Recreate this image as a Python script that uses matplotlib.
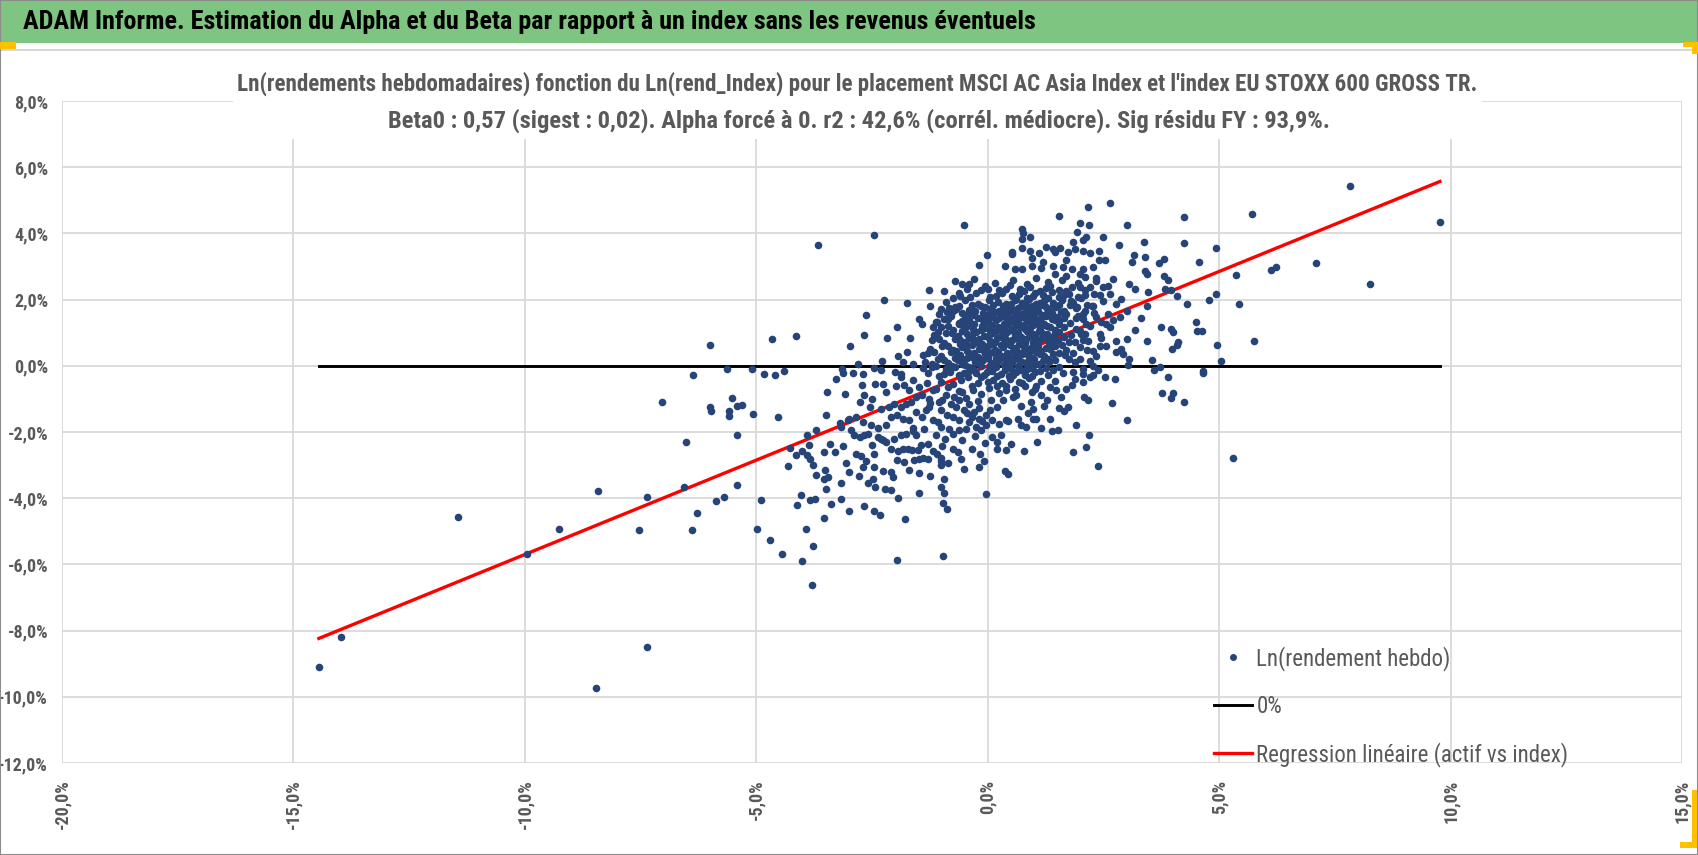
import matplotlib
matplotlib.use("Agg")
import matplotlib.pyplot as plt
import matplotlib.font_manager as fm
from matplotlib.patches import Rectangle
from matplotlib.lines import Line2D
from matplotlib.ticker import FuncFormatter
import numpy as np

# --- data (x = Ln(rend_Index) %, y = Ln(rendement hebdo) %) ---
pts_far = [(-14.45, -9.10), (-13.98, -8.18), (-11.44, -4.58), (-9.95, -5.69), (-9.27, -4.92),
           (-8.41, -3.79), (-8.46, -9.74), (-7.54, -4.96), (-7.37, -3.95), (-7.37, -8.51),
           (-7.04, -1.08), (-6.57, -3.65), (-6.52, -2.31), (-6.36, -0.27), (-6.38, -4.96),
           (-6.28, -4.46), (-6.00, 0.62), (-6.00, -1.24), (-5.98, -1.38), (-5.88, -4.08),
           (-5.69, -3.95), (-5.53, -0.96), (-5.60, -1.38), (-5.60, -1.51), (-5.41, -1.21),
           (-5.31, -1.17), (-5.41, -2.09), (-5.41, -3.61),
           (7.83, 5.43), (9.77, 4.33), (7.09, 3.10), (8.25, 2.47)]

pts_upper_left = [(-3.66, 3.65), (-2.46, 3.95), (-0.52, 4.24), (-0.02, 3.35), (-0.19, 3.06),
                  (-0.71, 2.55), (-0.55, 2.46), (-0.40, 2.46), (-1.27, 2.29), (0.00, 2.33),
                  (-2.24, 1.99), (-1.75, 1.90), (-1.25, 1.82), (-0.62, 2.21), (-2.64, 1.53),
                  (-1.96, 1.18), (-1.48, 1.42), (-1.42, 1.27), (-4.65, 0.81), (-4.15, 0.89),
                  (-2.67, 0.94), (-2.17, 0.85), (-1.67, 0.85), (-2.97, 0.60), (-1.75, 0.43),
                  (-1.94, 0.29), (-1.84, 0.12), (-2.28, 0.13), (-2.81, 0.04), (-5.63, -0.10),
                  (-5.09, -0.10), (-4.84, -0.25), (-4.60, -0.29), (-4.41, -0.16), (-3.15, -0.10),
                  (-3.12, -0.22), (-2.92, -0.22), (-2.69, -0.25), (-2.46, -0.08), (-2.31, -0.13),
                  (-2.01, -0.20), (-1.88, -0.25), (-3.28, -0.40), (-1.62, 0.05), (-1.39, 0.33),
                  (-1.21, 0.06), (-1.19, 1.16), (-1.08, 1.01), (-1.12, 1.32), (-0.83, 1.74),
                  (-0.76, 1.67), (-0.68, 1.72), (-0.44, 1.52), (-0.62, 1.27), (-0.47, 1.16)]

pts_upper_right = [(2.64, 4.92), (2.17, 4.80), (1.53, 4.54), (1.99, 4.32), (2.19, 4.24), (3.00, 4.24),
                   (4.25, 4.49), (5.72, 4.58), (0.75, 4.12), (0.76, 4.00), (0.75, 3.82), (0.91, 3.90),
                   (1.93, 4.03), (2.13, 3.90), (2.05, 3.80), (2.50, 3.90), (1.84, 3.74), (2.83, 3.66),
                   (3.38, 3.73), (4.25, 3.70), (4.94, 3.56), (0.52, 3.44), (0.53, 3.37), (0.75, 3.56),
                   (0.91, 3.47), (1.11, 3.41), (1.25, 3.59), (1.41, 3.54), (1.56, 3.56), (1.45, 3.44),
                   (1.74, 3.44), (1.88, 3.54), (2.06, 3.47), (2.20, 3.41), (2.41, 3.47), (2.53, 3.21),
                   (2.40, 3.19), (3.17, 3.36), (3.11, 3.15), (3.40, 3.30), (3.69, 3.10), (3.80, 3.22),
                   (4.56, 3.15), (0.37, 3.02), (0.58, 2.93), (0.75, 2.91), (0.96, 3.01), (1.16, 2.94),
                   (1.41, 3.03), (1.63, 2.97), (1.83, 2.91), (1.99, 2.78), (2.10, 2.68), (2.28, 2.97),
                   (3.40, 2.86), (3.45, 2.78), (3.80, 2.71), (3.90, 2.58), (5.36, 2.75), (6.12, 2.88),
                   (6.23, 2.97), (3.05, 2.48), (3.18, 2.33), (3.47, 2.24), (3.83, 2.33), (3.95, 2.30),
                   (4.09, 2.11), (4.94, 2.16), (4.78, 1.99), (5.43, 1.86), (4.30, 1.86), (3.45, 1.82),
                   (3.31, 1.44), (3.19, 1.09), (3.02, 0.81), (3.45, 0.76), (3.75, 1.18), (3.96, 1.11),
                   (4.01, 1.01), (4.51, 1.32), (4.53, 1.06), (4.63, 1.06), (4.12, 0.71), (4.08, 0.63),
                   (3.99, 0.51), (4.96, 0.64), (5.76, 0.76), (5.03, 0.13), (3.55, 0.17), (3.73, -0.03),
                   (3.59, -0.13), (3.90, -0.33), (4.65, -0.17), (4.65, -0.23), (2.78, 0.76), (2.89, 0.51),
                   (2.92, 0.35), (3.05, 0.22), (3.04, 0.02), (2.56, 0.61), (2.42, 0.61), (2.77, 0.43),
                   (2.28, 0.46), (2.35, 0.30), (2.64, 1.16), (2.71, 1.37), (2.85, 1.47), (3.00, 1.67),
                   (2.78, 1.87), (2.89, 2.03), (2.42, 2.13), (2.28, 1.82), (2.49, 2.38), (2.64, 2.18),
                   (2.35, 1.47), (2.42, 0.96), (2.56, 1.27), (2.10, 2.13), (1.99, 2.38), (1.81, 1.97),
                   (1.92, 1.77), (2.06, 1.57), (2.13, 1.27), (2.02, 0.96), (2.17, 0.76), (2.28, 0.00),
                   (2.20, 0.15), (2.39, -0.12), (1.88, 0.10), (1.99, 0.20), (2.06, -0.10), (1.84, -0.20)]

pts_lower_left = [(-5.08, -1.45), (-4.53, -1.55), (-4.89, -4.04), (-4.98, -4.94), (-4.70, -5.27),
                  (-4.44, -5.70), (-4.02, -5.91), (-3.80, -6.63), (-3.77, -5.44), (-3.92, -4.94),
                  (-4.11, -4.21), (-4.04, -3.89), (-3.85, -4.04), (-3.73, -4.01), (-3.54, -4.60),
                  (-3.39, -4.17), (-3.16, -4.01), (-3.00, -4.38), (-2.67, -4.25), (-2.46, -4.38),
                  (-2.32, -4.52), (-1.79, -4.64), (-1.96, -5.87), (-0.97, -5.74), (-0.97, -4.13),
                  (-0.88, -4.34), (-0.03, -3.88), (-4.32, -3.04), (-4.27, -2.47), (-4.14, -2.68),
                  (-4.01, -2.56), (-3.91, -2.68), (-3.87, -2.40), (-3.91, -2.10), (-3.84, -2.81),
                  (-3.77, -2.99), (-3.71, -3.29), (-3.51, -3.16), (-3.54, -3.42), (-3.45, -3.36),
                  (-3.49, -3.72), (-3.54, -2.61), (-3.41, -2.35), (-3.30, -2.61), (-3.12, -2.43),
                  (-3.71, -1.93), (-3.49, -1.49), (-3.47, -0.79), (-3.09, -0.84), (-3.20, -1.73),
                  (-3.17, -1.85), (-3.02, -1.65), (-3.00, -1.60), (-2.95, -1.95), (-2.88, -2.10),
                  (-2.77, -2.15), (-2.67, -2.10), (-2.59, -2.07), (-3.07, -2.94), (-2.99, -3.21),
                  (-3.18, -3.54), (-2.84, -2.66), (-2.74, -2.71), (-2.70, -3.06), (-2.79, -3.32),
                  (-2.59, -3.53), (-2.47, -3.41), (-2.45, -3.07), (-2.44, -3.67), (-2.27, -3.18),
                  (-2.22, -3.71), (-2.10, -3.75), (-2.04, -3.36), (-2.10, -3.21), (-1.93, -4.00),
                  (-1.49, -3.84), (-1.49, -3.24), (-1.02, -3.67), (-0.94, -3.85), (-0.94, -3.41),
                  (-1.02, -3.00), (-1.02, -2.88), (-1.02, -2.78), (-1.48, -2.83), (-1.39, -2.79),
                  (-1.30, -2.81), (-1.96, -2.86), (-1.80, -2.91), (-1.59, -2.84), (-2.50, -2.40),
                  (-2.45, -2.66), (-2.27, -2.25), (-2.20, -2.30), (-2.08, -2.51), (-1.94, -2.56),
                  (-1.83, -2.51), (-1.73, -2.51), (-1.64, -2.54), (-2.38, -2.15), (-2.31, -2.20),
                  (-2.03, -2.20), (-1.88, -2.10), (-1.77, -2.05), (-1.55, -2.10), (-1.45, -2.40),
                  (-1.30, -2.35), (-1.19, -2.56), (-1.09, -2.66), (-0.76, -2.51), (-0.65, -2.61),
                  (-0.58, -2.81), (-0.33, -2.51), (-0.17, -2.66), (-0.18, -3.06), (-0.09, -2.89),
                  (0.10, -2.15), (0.19, -2.51), (0.28, -2.10), (0.19, -2.30),
                  (-2.72, -0.59), (-2.76, -1.09), (-2.67, -0.89), (-2.49, -0.99), (-2.43, -0.56),
                  (-2.27, -0.56), (-2.20, -0.79), (-1.98, -0.62), (-2.31, -1.32), (-2.13, -1.24),
                  (-2.02, -1.14), (-2.69, -1.70), (-2.52, -1.80), (-2.38, -1.87), (-2.20, -1.80),
                  (-2.09, -1.55), (-1.95, -1.49), (-1.84, -1.60), (-1.70, -1.65), (-1.55, -1.39),
                  (-1.41, -1.55), (-1.34, -1.34), (-1.26, -1.24), (-1.19, -1.65), (-1.08, -1.70),
                  (-1.01, -1.85), (-0.83, -1.90), (-0.76, -2.05), (-0.62, -1.95), (-0.47, -1.90),
                  (-0.40, -1.70), (-0.26, -1.85), (-0.15, -1.95), (-0.04, -1.80), (0.10, -1.65),
                  (0.24, -1.75), (0.39, -1.65), (-1.88, -0.33), (-1.80, -0.59), (-1.71, -0.74),
                  (-1.62, -0.43), (-1.48, -0.64), (-1.41, -0.89), (-1.26, -0.99), (-1.19, -0.74),
                  (-1.05, -1.09), (-0.91, -0.89), (-0.80, -1.14), (-0.69, -1.24), (-0.62, -1.04),
                  (-0.51, -1.34), (-0.40, -1.14), (-0.29, -1.39), (-0.19, -1.29), (-0.04, -1.49),
                  (0.06, -1.34), (0.21, -1.24), (0.32, -1.04), (0.39, -0.74), (-1.66, -1.09),
                  (-1.55, -0.94), (-1.88, -1.24), (-1.77, -1.14), (-1.01, -1.34), (-0.87, -1.49),
                  (-0.76, -1.55), (-0.62, -1.65), (-0.33, -1.55), (-0.19, -1.60)]

pts_lower_right = [(5.30, -2.78), (2.38, -3.04), (2.13, -2.44), (1.84, -2.61), (2.19, -2.09),
                   (1.91, -1.80), (3.02, -1.64), (2.69, -1.12), (4.25, -1.08), (3.77, -0.83),
                   (3.95, -0.96), (4.01, -0.82), (2.53, -0.35), (2.76, -0.40), (2.22, -0.35),
                   (2.28, -0.28), (2.05, -0.25), (2.05, -0.50), (1.83, -0.59), (1.88, -0.41),
                   (2.08, -0.94), (2.17, -1.04), (1.74, -1.24), (1.65, -1.37), (1.53, -1.29),
                   (1.34, -1.60), (1.51, -1.93), (1.39, -1.97), (1.15, -1.89), (1.06, -2.30),
                   (0.79, -2.57), (0.51, -2.35), (0.39, -2.53), (0.37, -3.18), (0.44, -3.28),
                   (0.44, -1.67), (0.66, -1.60), (0.71, -1.80), (0.82, -1.85), (0.87, -1.44),
                   (0.98, -1.60), (1.04, -1.60), (1.22, -1.21), (1.58, -0.94), (1.70, -0.71),
                   (1.48, -0.74), (1.34, -0.64), (1.16, -0.89), (1.02, -0.69), (0.94, -1.09)]

pts_core = [(-0.30, 2.62), (0.15, 2.50), (0.55, 2.58), (0.85, 2.47), (1.05, 2.65), (1.30, 2.52),
            (1.60, 2.60), (1.95, 2.49), (2.35, 2.57),
            (-0.45, 2.31), (-0.05, 2.40), (0.25, 2.29), (0.48, 2.43), (0.70, 2.33), (0.92, 2.38),
            (1.12, 2.27), (1.35, 2.41), (1.55, 2.30), (1.82, 2.37), (2.10, 2.28), (2.60, 2.42),
            (-0.60, 2.12), (-0.25, 2.19), (0.05, 2.08), (0.30, 2.21), (0.52, 2.11), (0.68, 2.18),
            (0.85, 2.06), (1.02, 2.20), (1.20, 2.13), (1.38, 2.23), (1.55, 2.09), (1.75, 2.17),
            (2.02, 2.05), (2.30, 2.16),
            (-0.90, 1.92), (-0.50, 1.99), (-0.20, 1.88), (0.02, 2.00), (0.22, 1.93), (0.40, 1.86),
            (0.58, 1.98), (0.75, 1.90), (0.90, 2.01), (1.05, 1.87), (1.22, 1.96), (1.40, 1.89),
            (1.60, 1.99), (1.85, 1.91), (2.15, 1.85), (2.50, 1.97),
            (-1.00, 1.72), (-0.70, 1.79), (-0.40, 1.69), (-0.15, 1.80), (0.05, 1.73), (0.25, 1.66),
            (0.42, 1.78), (0.58, 1.70), (0.72, 1.81), (0.88, 1.68), (1.00, 1.76), (1.15, 1.83),
            (1.30, 1.71), (1.48, 1.78), (1.65, 1.67), (1.90, 1.74), (2.25, 1.80),
            (-1.05, 1.58), (-0.80, 1.50), (-0.55, 1.61), (-0.30, 1.52), (-0.10, 1.59), (0.10, 1.47),
            (0.28, 1.56), (0.45, 1.62), (0.60, 1.49), (0.75, 1.57), (0.88, 1.46), (1.02, 1.60),
            (1.18, 1.52), (1.32, 1.63), (1.50, 1.48), (1.70, 1.56), (1.95, 1.51), (2.30, 1.59),
            (-1.10, 1.32), (-0.85, 1.40), (-0.62, 1.29), (-0.40, 1.37), (-0.20, 1.43), (0.00, 1.31),
            (0.18, 1.39), (0.35, 1.27), (0.50, 1.42), (0.65, 1.33), (0.80, 1.44), (0.95, 1.30),
            (1.08, 1.38), (1.22, 1.26), (1.38, 1.41), (1.55, 1.34), (1.78, 1.28), (2.05, 1.40),
            (2.45, 1.33),
            (-1.00, 1.18), (-0.75, 1.09), (-0.52, 1.21), (-0.32, 1.12), (-0.12, 1.19), (0.05, 1.07),
            (0.22, 1.16), (0.40, 1.23), (0.55, 1.10), (0.70, 1.18), (0.85, 1.05), (0.98, 1.22),
            (1.12, 1.13), (1.28, 1.20), (1.45, 1.08), (1.65, 1.17), (1.90, 1.11), (2.20, 1.21),
            (-1.15, 0.92), (-0.90, 1.00), (-0.65, 0.89), (-0.45, 0.97), (-0.25, 1.03), (-0.08, 0.91),
            (0.10, 0.99), (0.28, 0.87), (0.42, 1.02), (0.58, 0.94), (0.72, 0.86), (0.88, 1.01),
            (1.02, 0.90), (1.18, 0.98), (1.35, 0.88), (1.55, 1.02), (1.80, 0.93), (2.10, 0.97),
            (-1.20, 0.78), (-0.95, 0.70), (-0.70, 0.81), (-0.50, 0.72), (-0.30, 0.79), (-0.12, 0.67),
            (0.05, 0.76), (0.20, 0.83), (0.35, 0.70), (0.52, 0.78), (0.68, 0.66), (0.82, 0.80),
            (0.98, 0.73), (1.15, 0.82), (1.32, 0.69), (1.52, 0.77), (1.75, 0.71), (2.05, 0.79),
            (-1.25, 0.52), (-0.98, 0.60), (-0.75, 0.49), (-0.55, 0.57), (-0.35, 0.63), (-0.18, 0.51),
            (0.00, 0.59), (0.15, 0.47), (0.32, 0.56), (0.48, 0.62), (0.62, 0.50), (0.78, 0.58),
            (0.92, 0.46), (1.08, 0.61), (1.25, 0.53), (1.45, 0.59), (1.70, 0.48), (2.00, 0.56),
            (-1.30, 0.38), (-1.02, 0.30), (-0.80, 0.41), (-0.60, 0.32), (-0.40, 0.39), (-0.22, 0.27),
            (-0.05, 0.36), (0.12, 0.43), (0.28, 0.31), (0.42, 0.38), (0.58, 0.26), (0.72, 0.40),
            (0.88, 0.33), (1.05, 0.42), (1.22, 0.29), (1.42, 0.37), (1.68, 0.32),
            (-1.35, 0.12), (-1.08, 0.20), (-0.85, 0.09), (-0.65, 0.17), (-0.45, 0.23), (-0.28, 0.11),
            (-0.10, 0.19), (0.08, 0.07), (0.22, 0.16), (0.38, 0.22), (0.52, 0.10), (0.68, 0.18),
            (0.85, 0.06), (1.00, 0.21), (1.20, 0.13), (1.45, 0.18),
            (-1.40, -0.08), (-1.12, 0.00), (-0.90, -0.11), (-0.70, -0.03), (-0.50, 0.03), (-0.32, -0.09),
            (-0.15, -0.01), (0.02, -0.13), (0.18, -0.04), (0.35, 0.02), (0.50, -0.10), (0.65, -0.02),
            (0.82, -0.12), (1.00, 0.01), (1.25, -0.07), (1.55, -0.03),
            (-1.30, -0.22), (-1.05, -0.30), (-0.82, -0.19), (-0.62, -0.27), (-0.42, -0.33), (-0.25, -0.21),
            (-0.08, -0.29), (0.10, -0.17), (0.28, -0.26), (0.45, -0.32), (0.62, -0.20), (0.80, -0.28),
            (1.02, -0.18), (1.30, -0.27),
            (-1.00, -0.48), (-0.58, -0.42), (-0.22, -0.51), (0.12, -0.44), (0.30, -0.53), (0.48, -0.41),
            (0.68, -0.49), (0.90, -0.38), (1.15, -0.46),
            (0.02, -0.68), (0.20, -0.61), (0.58, -0.70), (0.80, -0.60)]

pts_center = [(-0.35, 1.85), (0.12, 1.83), (0.50, 1.87), (0.82, 1.84), (1.12, 1.90), (1.40, 1.82),
              (-0.28, 1.65), (0.15, 1.62), (0.50, 1.68), (0.80, 1.63), (1.08, 1.66), (1.38, 1.60),
              (-0.50, 1.45), (-0.05, 1.47), (0.40, 1.45), (0.72, 1.48), (1.00, 1.44), (1.25, 1.50),
              (1.65, 1.45), (-0.30, 1.25), (0.10, 1.22), (0.45, 1.30), (0.78, 1.24), (1.05, 1.28),
              (1.35, 1.18), (-0.55, 1.05), (-0.15, 1.08), (0.18, 1.05), (0.50, 1.08), (0.80, 1.12),
              (1.10, 1.04), (1.45, 0.98), (-0.40, 0.85), (0.00, 0.88), (0.30, 0.93), (0.62, 0.85),
              (0.92, 0.90), (1.25, 0.86), (-0.60, 0.65), (-0.22, 0.70), (0.12, 0.65), (0.42, 0.68),
              (0.75, 0.72), (1.05, 0.66), (1.40, 0.68), (-0.45, 0.45), (-0.10, 0.48), (0.22, 0.42),
              (0.55, 0.45), (0.85, 0.52), (1.15, 0.46), (-0.70, 0.25), (-0.35, 0.28), (0.00, 0.25),
              (0.32, 0.26), (0.65, 0.30), (0.95, 0.25), (1.30, 0.22), (-0.55, 0.05), (-0.20, 0.08),
              (0.12, 0.05), (0.45, 0.08), (0.75, 0.10), (1.10, 0.05), (-0.40, -0.15), (-0.02, -0.18),
              (0.38, -0.14), (0.72, -0.12), (1.12, -0.15)]

pts_center2 = [(-0.95, 2.25), (-0.15, 2.28), (0.40, 2.32), (0.78, 2.25), (1.25, 2.35), (1.70, 2.25),
               (2.20, 2.38), (-0.75, 2.05), (-0.38, 2.08), (0.18, 2.12), (0.62, 2.03), (0.98, 2.10),
               (1.30, 2.05), (1.62, 2.12), (1.95, 2.08), (-0.62, 1.82), (-0.05, 1.78), (0.32, 1.80),
               (0.65, 1.76), (0.95, 1.82), (1.25, 1.78), (1.55, 1.83), (1.78, 1.85), (-0.88, 1.62),
               (-0.42, 1.58), (0.02, 1.55), (0.35, 1.60), (0.68, 1.54), (0.95, 1.57), (1.25, 1.58),
               (1.58, 1.62), (2.10, 1.65), (-0.95, 1.42), (-0.55, 1.35), (-0.10, 1.38), (0.25, 1.45),
               (0.58, 1.38), (0.88, 1.36), (1.15, 1.45), (1.45, 1.38), (1.90, 1.45), (-0.85, 1.20),
               (-0.42, 1.25), (-0.05, 1.15), (0.30, 1.12), (0.62, 1.25), (0.92, 1.15), (1.20, 1.22),
               (1.55, 1.25), (2.00, 1.05), (-0.78, 0.98), (-0.35, 0.92), (0.05, 0.95), (0.38, 0.85),
               (0.65, 1.00), (0.98, 0.96), (1.28, 0.95), (1.65, 0.88), (-1.05, 0.82), (-0.60, 0.78),
               (-0.18, 0.82), (0.15, 0.72), (0.48, 0.74), (0.80, 0.68), (1.08, 0.78), (1.40, 0.80),
               (1.88, 0.72), (-0.85, 0.60), (-0.45, 0.62), (-0.05, 0.55), (0.28, 0.62), (0.60, 0.55),
               (0.95, 0.58), (1.35, 0.52), (-1.15, 0.42), (-0.68, 0.45), (-0.30, 0.38), (0.05, 0.40),
               (0.40, 0.30), (0.75, 0.35), (1.12, 0.35), (1.55, 0.40), (-0.95, 0.18), (-0.55, 0.22),
               (-0.18, 0.18), (0.18, 0.24), (0.52, 0.20), (0.88, 0.15), (1.32, 0.10), (-1.20, -0.05),
               (-0.78, 0.00), (-0.40, -0.05), (0.05, 0.00), (0.45, -0.04), (0.92, -0.06), (1.40, -0.12),
               (-0.95, -0.25), (-0.52, -0.22), (-0.15, -0.35), (0.20, -0.30), (0.55, -0.28), (0.95, -0.30),
               (-0.75, -0.55), (-0.35, -0.60), (0.00, -0.50), (0.40, -0.62), (0.75, -0.52), (1.05, -0.60),
               (-0.55, -0.80), (-0.15, -0.85), (0.25, -0.82), (0.62, -0.88), (0.95, -0.80)]

pts_fill = [(-1.32, -0.52), (-1.12, -0.71), (-0.86, -0.63), (-0.61, -0.77), (-0.31, -0.74),
            (-1.24, -1.12), (-0.98, -1.02), (-0.72, -0.93), (-0.47, -0.98), (-0.22, -1.06),
            (0.08, -1.02), (-1.62, -1.88), (-1.37, -1.92), (-1.12, -2.08), (-0.92, -2.22),
            (-0.55, -2.24), (-0.28, -2.12), (-0.05, -2.33), (-0.45, -1.42), (-0.12, -1.66),
            (-1.50, -2.55), (-0.85, -2.95), (-0.52, -3.12), (-1.70, -3.15), (-1.25, -3.32),
            (-2.62, -2.88), (-2.85, -1.55), (-2.55, -1.25), (-1.62, -1.98), (-0.98, -2.42),
            (0.55, -0.95), (0.72, -1.22), (0.98, -1.32), (1.28, -1.02), (1.45, -0.45),
            (1.62, -0.22), (1.75, 0.22), (1.60, 0.62), (1.85, 0.38), (2.15, 0.48),
            (2.45, 0.85), (2.60, 1.55), (2.35, 2.65), (2.70, 2.62), (2.05, 2.92),
            (1.70, 3.20), (1.20, 3.15), (0.95, 3.25), (1.45, 2.78), (1.70, 2.72)]

beta0 = 0.57
x_ticks = [-20, -15, -10, -5, 0, 5, 10, 15]
y_ticks = [-12, -10, -8, -6, -4, -2, 0, 2, 4, 6, 8]

banner_title = "ADAM Informe. Estimation du Alpha et du Beta par rapport à un index sans les revenus éventuels"
title_l1 = ("Ln(rendements hebdomadaires) fonction du Ln(rend_Index) pour le placement "
            "MSCI AC Asia Index et l'index EU STOXX 600 GROSS TR.")
title_l2 = ("Beta0 : 0,57 (sigest : 0,02). Alpha forcé à 0. r2 : 42,6% (corrél. médiocre). "
            "Sig résidu FY : 93,9%.")
legend_labels = ["Ln(rendement hebdo)", "0%", "Regression linéaire (actif vs index)"]

# --- font: something narrow like Calibri if we have it ---
have = {f.name for f in fm.fontManager.ttflist}
font = "DejaVu Sans"
for cand in ["Liberation Sans Narrow", "Roboto Condensed", "Open Sans Condensed",
             "Noto Sans Condensed", "Lato", "Roboto"]:
    if cand in have:
        font = cand
        break
plt.rcParams["font.family"] = [font, "DejaVu Sans"]

W, H = 1698, 855
GREY = "#595959"
DOT = "#264478"


def fx(px):
    return px / W


def fy(py):
    return 1 - py / H


all_pts = (pts_far + pts_upper_left + pts_upper_right + pts_lower_left + pts_lower_right
           + pts_core + pts_center + pts_center2 + pts_fill)
idx = np.array([p[0] for p in all_pts])
ret = np.array([p[1] for p in all_pts])

fig = plt.figure(figsize=(W / 100, H / 100), dpi=100)
fig.patch.set_facecolor("white")

ax = fig.add_axes([fx(62), fy(763), fx(1682) - fx(62), fy(101) - fy(763)])
ax.set_xlim(-20, 15)
ax.set_ylim(-12, 8)
ax.set_xticks(x_ticks)
ax.set_yticks(y_ticks)
pct = FuncFormatter(lambda v, p: ("%.1f%%" % v).replace(".", ","))
ax.xaxis.set_major_formatter(pct)
ax.yaxis.set_major_formatter(pct)
ax.grid(True, color="#d9d9d9", lw=1.3)
ax.set_axisbelow(True)
for s in ax.spines.values():
    s.set_visible(False)
ax.tick_params(length=0)
ax.tick_params(axis="y", pad=10, labelsize=13, labelcolor=GREY)
ax.tick_params(axis="x", pad=12, labelsize=13, labelcolor=GREY, rotation=90)
for lab in ax.get_xticklabels() + ax.get_yticklabels():
    lab.set_fontweight("bold")

ax.scatter(idx, ret, s=30, color=DOT, linewidths=0, zorder=4, label=legend_labels[0])
xr = np.array([idx.min(), idx.max()])
ax.plot(xr, [0, 0], color="black", lw=2.1, zorder=3, label=legend_labels[1])
ax.plot(xr, beta0 * xr, color="#ff0000", lw=2.4, zorder=3, label=legend_labels[2])

handles = [Line2D([], [], ls="none", marker="o", ms=4, color=DOT),
           Line2D([], [], color="black", lw=2.1),
           Line2D([], [], color="#ff0000", lw=2.4)]
leg = ax.legend(handles, legend_labels, loc="upper left", bbox_to_anchor=(fx(1214), fy(646)),
                bbox_transform=fig.transFigure, frameon=False, fontsize=16.5,
                labelcolor=GREY, handlelength=1.65, handletextpad=0.2, labelspacing=1.05,
                borderpad=0, borderaxespad=0)

# banner, frame, corner marks
fig.add_artist(Rectangle((0, fy(43)), 1, 1 - fy(43), transform=fig.transFigure,
                         facecolor="#7dc580", edgecolor="none", zorder=1))
fig.add_artist(Line2D([0, 1], [fy(50), fy(50)], transform=fig.transFigure, color="#d0d0d0", lw=1.2))
fig.add_artist(Rectangle((0, 0), 1, 1, transform=fig.transFigure, facecolor="none",
                         edgecolor="#8c8c8c", lw=1.5, zorder=5))
for (x0, y0, w, h) in [(0, 42, 16, 7), (1683, 42, 15, 5), (1692, 42, 6, 12),
                       (1692, 790, 5, 58), (1680, 842, 17, 6)]:
    fig.add_artist(Rectangle((fx(x0), fy(y0 + h)), w / W, h / H, transform=fig.transFigure,
                             facecolor="#ffc000", edgecolor="none", zorder=6))

# white title box over the top of the plot
fig.add_artist(Rectangle((fx(233), fy(139)), (1482 - 233) / W, (139 - 62) / H,
                         transform=fig.transFigure, facecolor="white", edgecolor="none", zorder=2))

t0 = fig.text(fx(23), fy(22), banner_title, fontsize=20, fontweight="bold", color="black",
              ha="left", va="center", zorder=7)
t1 = fig.text(fx(857), fy(84), title_l1, fontsize=18, fontweight="bold", color=GREY,
              ha="center", va="center", zorder=7)
t2 = fig.text(fx(859), fy(121), title_l2, fontsize=18, fontweight="bold", color=GREY,
              ha="center", va="center", zorder=7)

# fit the long texts to the widths they have in the original
r = fig.canvas.get_renderer()
for t, wpx in [(t0, 1013), (t1, 1242), (t2, 942)]:
    t.set_fontsize(t.get_fontsize() * wpx / t.get_window_extent(r).width)

fig.savefig("out.png", dpi=100)
